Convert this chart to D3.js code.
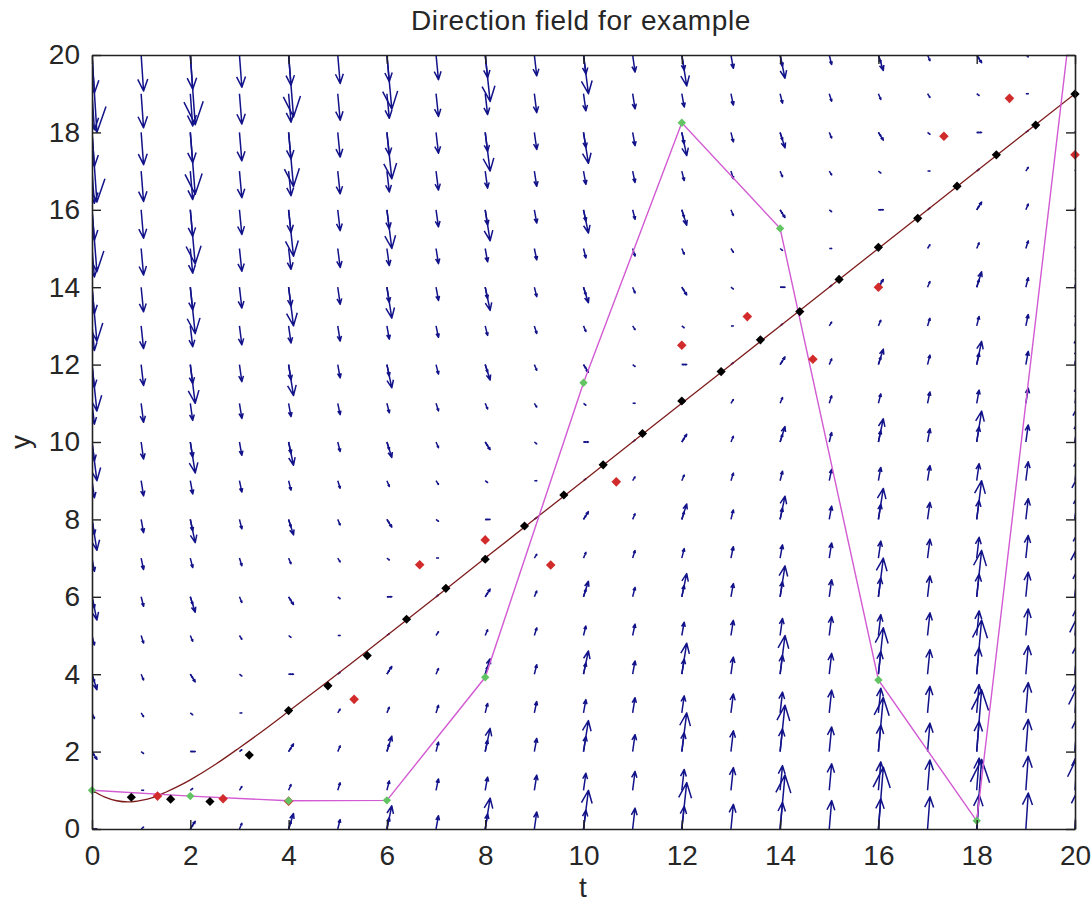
<!DOCTYPE html>
<html>
<head>
<meta charset="utf-8">
<script src="https://cdn.jsdelivr.net/npm/d3@7"></script>
<style>
  body { margin: 0; background: #fff; }
  svg { display: block; }
  text { font-family: "Liberation Sans", Arial, Helvetica, sans-serif; fill: #262626; }
</style>
</head>
<body>
<svg id="chart" width="1092" height="909"></svg>
<script>
// ---- axis ticks ----
const tTicks = [0, 2, 4, 6, 8, 10, 12, 14, 16, 18, 20];
const yTicks = [0, 2, 4, 6, 8, 10, 12, 14, 16, 18, 20];

// ---- direction field: grid nodes and slope dy/dt at each node ----
const fieldT = [0,1,2,3,4,5,6,7,8,9,10,11,12,13,14,15,16,17,18,19,20];
const fieldY = [0,1,2,3,4,5,6,7,8,9,10,11,12,13,14,15,16,17,18,19,20];
// row i -> fieldY[i], column j -> fieldT[j]
const fieldSlopes = [
  [0,1,2,3,4,5,6,7,8,9,10,11,12,13,14,15,16,17,18,19,20],
  [-1,0,1,2,3,4,5,6,7,8,9,10,11,12,13,14,15,16,17,18,19],
  [-2,-1,0,1,2,3,4,5,6,7,8,9,10,11,12,13,14,15,16,17,18],
  [-3,-2,-1,0,1,2,3,4,5,6,7,8,9,10,11,12,13,14,15,16,17],
  [-4,-3,-2,-1,0,1,2,3,4,5,6,7,8,9,10,11,12,13,14,15,16],
  [-5,-4,-3,-2,-1,0,1,2,3,4,5,6,7,8,9,10,11,12,13,14,15],
  [-6,-5,-4,-3,-2,-1,0,1,2,3,4,5,6,7,8,9,10,11,12,13,14],
  [-7,-6,-5,-4,-3,-2,-1,0,1,2,3,4,5,6,7,8,9,10,11,12,13],
  [-8,-7,-6,-5,-4,-3,-2,-1,0,1,2,3,4,5,6,7,8,9,10,11,12],
  [-9,-8,-7,-6,-5,-4,-3,-2,-1,0,1,2,3,4,5,6,7,8,9,10,11],
  [-10,-9,-8,-7,-6,-5,-4,-3,-2,-1,0,1,2,3,4,5,6,7,8,9,10],
  [-11,-10,-9,-8,-7,-6,-5,-4,-3,-2,-1,0,1,2,3,4,5,6,7,8,9],
  [-12,-11,-10,-9,-8,-7,-6,-5,-4,-3,-2,-1,0,1,2,3,4,5,6,7,8],
  [-13,-12,-11,-10,-9,-8,-7,-6,-5,-4,-3,-2,-1,0,1,2,3,4,5,6,7],
  [-14,-13,-12,-11,-10,-9,-8,-7,-6,-5,-4,-3,-2,-1,0,1,2,3,4,5,6],
  [-15,-14,-13,-12,-11,-10,-9,-8,-7,-6,-5,-4,-3,-2,-1,0,1,2,3,4,5],
  [-16,-15,-14,-13,-12,-11,-10,-9,-8,-7,-6,-5,-4,-3,-2,-1,0,1,2,3,4],
  [-17,-16,-15,-14,-13,-12,-11,-10,-9,-8,-7,-6,-5,-4,-3,-2,-1,0,1,2,3],
  [-18,-17,-16,-15,-14,-13,-12,-11,-10,-9,-8,-7,-6,-5,-4,-3,-2,-1,0,1,2],
  [-19,-18,-17,-16,-15,-14,-13,-12,-11,-10,-9,-8,-7,-6,-5,-4,-3,-2,-1,0,1],
  [-20,-19,-18,-17,-16,-15,-14,-13,-12,-11,-10,-9,-8,-7,-6,-5,-4,-3,-2,-1,0]
];
// a second, coarser quiver overlays every other node
const coarseEvery = 2;

// ---- solution curve ----
const curveT = [0, 0.25, 0.5, 0.75, 1, 1.25, 1.5, 1.75, 2, 2.5, 3, 3.5, 4, 5, 6, 8, 10, 12, 14, 16, 18, 20];
const curveY = [1, 0.83, 0.73, 0.70, 0.74, 0.82, 0.95, 1.10, 1.27, 1.66, 2.10, 2.56, 3.04, 4.01, 5.0, 7.0, 9.0, 11.0, 13.0, 15.0, 17.0, 19.0];

// ---- black diamonds (step 0.8) ----
const blackT = [0.8, 1.6, 2.4, 3.2, 4.0, 4.8, 5.6, 6.4, 7.2, 8.0, 8.8, 9.6, 10.4, 11.2, 12.0, 12.8, 13.6, 14.4, 15.2, 16.0, 16.8, 17.6, 18.4, 19.2, 20.0];
const blackY = [0.82, 0.77, 0.71, 1.91, 3.06, 3.70, 4.48, 5.42, 6.22, 6.97, 7.83, 8.63, 9.41, 10.22, 11.06, 11.82, 12.64, 13.37, 14.20, 15.03, 15.78, 16.61, 17.42, 18.19, 18.99];

// ---- red diamonds (step 4/3) ----
const redT = [1.333, 2.667, 4.0, 5.333, 6.667, 8.0, 9.333, 10.667, 12.0, 13.333, 14.667, 16.0, 17.333, 18.667, 20.0];
const redY = [0.85, 0.78, 0.72, 3.35, 6.83, 7.47, 6.82, 8.97, 12.5, 13.24, 12.14, 14.0, 17.9, 18.88, 17.42];

// ---- magenta polyline with green markers (step 2) ----
const stepT = [0, 2, 4, 6, 8, 10, 12, 14, 16, 18, 20];
const stepY = [1.0, 0.85, 0.73, 0.74, 3.92, 11.53, 18.25, 15.52, 3.85, 0.21, 21.8];

// ---- layout ----
const W = 1092, H = 909;
const plot = { left: 92, right: 1075, top: 55, bottom: 829 };

const svg = d3.select("#chart");
svg.append("rect").attr("width", W).attr("height", H).attr("fill", "#fff");

const x = d3.scaleLinear().domain([0, 20]).range([plot.left, plot.right]);
const y = d3.scaleLinear().domain([0, 20]).range([plot.bottom, plot.top]);

svg.append("defs").append("clipPath").attr("id", "plotClip")
  .append("rect")
  .attr("x", plot.left).attr("y", plot.top)
  .attr("width", plot.right - plot.left).attr("height", plot.bottom - plot.top);

const inner = svg.append("g").attr("clip-path", "url(#plotClip)");

// quiver arrows: vector (1, slope) scaled, with two-stroke heads
const headLen = 0.33, headWidth = 0.33;
function arrowPath(d, scale) {
  const u = scale * 1, v = scale * d.s;
  const tx = d.t + u, ty = d.y + v;
  const h1x = tx - headLen * (u + headWidth * v), h1y = ty - headLen * (v - headWidth * u);
  const h2x = tx - headLen * (u - headWidth * v), h2y = ty - headLen * (v + headWidth * u);
  return `M${x(d.t)},${y(d.y)}L${x(tx)},${y(ty)}` +
         `M${x(h1x)},${y(h1y)}L${x(tx)},${y(ty)}L${x(h2x)},${y(h2y)}`;
}

const fineNodes = [];
const coarseNodes = [];
fieldY.forEach((yv, i) => {
  fieldT.forEach((tv, j) => {
    const node = { t: tv, y: yv, s: fieldSlopes[i][j] };
    fineNodes.push(node);
    if (i % coarseEvery === 0 && j % coarseEvery === 0) coarseNodes.push(node);
  });
});

const arrowColor = "#12128a";
inner.append("g").selectAll("path").data(fineNodes).join("path")
  .attr("d", d => arrowPath(d, 0.049))
  .attr("fill", "none").attr("stroke", arrowColor)
  .attr("stroke-width", 1.5).attr("stroke-linejoin", "round");

inner.append("g").selectAll("path").data(coarseNodes).join("path")
  .attr("d", d => arrowPath(d, 0.1))
  .attr("fill", "none").attr("stroke", arrowColor)
  .attr("stroke-width", 1.5).attr("stroke-linejoin", "round");

// solution curve
const curvePts = curveT.map((t, i) => [t, curveY[i]]);
inner.append("path")
  .datum(curvePts)
  .attr("d", d3.line().x(d => x(d[0])).y(d => y(d[1])).curve(d3.curveCatmullRom.alpha(0.5)))
  .attr("fill", "none").attr("stroke", "#7e1c1c").attr("stroke-width", 1.3);

// magenta polyline
const stepPts = stepT.map((t, i) => [t, stepY[i]]);
inner.append("path")
  .datum(stepPts)
  .attr("d", d3.line().x(d => x(d[0])).y(d => y(d[1])))
  .attr("fill", "none").attr("stroke", "#d25ad2").attr("stroke-width", 1.4);

// square diamond marker of half-diagonal r
const diamondPath = r => `M0,${-r}L${r},0L0,${r}L${-r},0Z`;
const inRange = p => p[1] >= 0 && p[1] <= 20;

svg.append("g").selectAll("path")
  .data(blackT.map((t, i) => [t, blackY[i]]).filter(inRange))
  .join("path")
  .attr("transform", d => `translate(${x(d[0])},${y(d[1])})`)
  .attr("d", diamondPath(4.6))
  .attr("fill", "#000");

svg.append("g").selectAll("path")
  .data(redT.map((t, i) => [t, redY[i]]).filter(inRange))
  .join("path")
  .attr("transform", d => `translate(${x(d[0])},${y(d[1])})`)
  .attr("d", diamondPath(4.8))
  .attr("fill", "#d22b2b");

svg.append("g").selectAll("path")
  .data(stepPts.filter(inRange))
  .join("path")
  .attr("transform", d => `translate(${x(d[0])},${y(d[1])})`)
  .attr("d", diamondPath(4.2))
  .attr("fill", "#62c462");

// ---- axes (box with inward ticks) ----
const fontSize = 28;
const axisStroke = "#222";

const gBottom = svg.append("g").attr("transform", `translate(0,${plot.bottom})`)
  .call(d3.axisBottom(x).tickValues(tTicks).tickSizeInner(-9).tickSizeOuter(0).tickPadding(16));
const gLeft = svg.append("g").attr("transform", `translate(${plot.left},0)`)
  .call(d3.axisLeft(y).tickValues(yTicks).tickSizeInner(-9).tickSizeOuter(0).tickPadding(12));
const gTop = svg.append("g").attr("transform", `translate(0,${plot.top})`)
  .call(d3.axisTop(x).tickValues(tTicks).tickSizeInner(-9).tickSizeOuter(0).tickFormat(""));
const gRight = svg.append("g").attr("transform", `translate(${plot.right},0)`)
  .call(d3.axisRight(y).tickValues(yTicks).tickSizeInner(-9).tickSizeOuter(0).tickFormat(""));

[gBottom, gLeft, gTop, gRight].forEach(g => {
  g.select(".domain").attr("stroke", axisStroke).attr("stroke-width", 1.6);
  g.selectAll(".tick line").attr("stroke", axisStroke).attr("stroke-width", 1.4);
  g.selectAll(".tick text")
    .attr("font-family", "Liberation Sans, Arial, sans-serif")
    .attr("font-size", fontSize).attr("fill", "#262626");
});

// ---- labels ----
svg.append("text")
  .attr("x", 581).attr("y", 30)
  .attr("text-anchor", "middle")
  .attr("font-size", fontSize).attr("letter-spacing", 0.6)
  .text("Direction field for example");

svg.append("text")
  .attr("x", 583).attr("y", 897)
  .attr("text-anchor", "middle")
  .attr("font-size", fontSize)
  .text("t");

svg.append("text")
  .attr("transform", "translate(30,442) rotate(-90)")
  .attr("text-anchor", "middle")
  .attr("font-size", fontSize)
  .text("y");
</script>
</body>
</html>
